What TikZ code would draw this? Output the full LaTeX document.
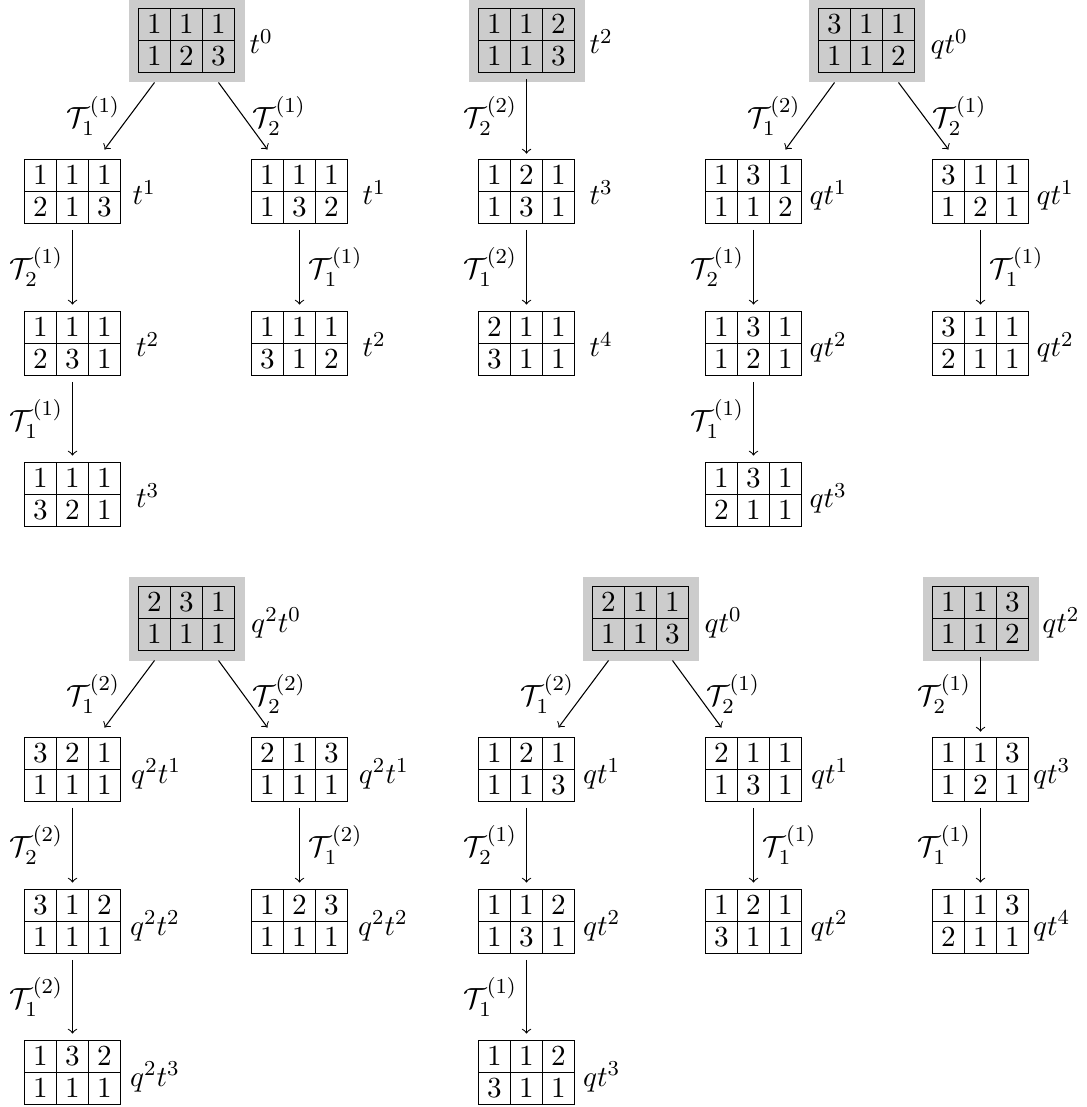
\documentclass[tikz,border=0pt]{standalone}
\usetikzlibrary{calc}
\newcommand{\ycell}[1]{\makebox[12.032pt]{\rule[-2.49pt]{0pt}{12.032pt}#1}}
\newcommand{\ytab}[6]{{\setlength{\tabcolsep}{0pt}\renewcommand{\arraystretch}{0}%
\begin{tabular}{@{}ccc@{}}\ycell{#1}&\ycell{#2}&\ycell{#3}\\\ycell{#4}&\ycell{#5}&\ycell{#6}\end{tabular}}}
\newcommand{\Tm}[2]{\mathcal{T}_{#1}^{(#2)}}
\tikzset{
  every node/.style={font=\fontsize{10.95}{13.6}\selectfont},
  tabl/.style={inner sep=0pt, outer sep=0pt, minimum width=36.096pt, minimum height=24.064pt},
  gridline/.style={line width=0.4pt},
  rootbg/.style={fill=black!20},
  lab/.style={inner sep=0pt, anchor=base west},
  arr/.style={->},
  tl/.style={midway, left},
  tr/.style={midway, right}
}
% a tableau: name, position, six entries
\newcommand{\tabnode}[8]{\node[tabl] (#1) at #2 {\ytab{#3}{#4}{#5}{#6}{#7}{#8}};
  \draw[gridline] (#1.north west) rectangle (#1.south east) (#1.west) -- (#1.east)
    ([xshift=12.032pt]#1.north west) -- ([xshift=12.032pt]#1.south west)
    ([xshift=-12.032pt]#1.north east) -- ([xshift=-12.032pt]#1.south east);}
\newcommand{\rootnode}[8]{\fill[rootbg] ($#2+(-58,-42)$) rectangle ($#2+(58,42)$);
  \tabnode{#1}{#2}{#3}{#4}{#5}{#6}{#7}{#8}}
% diagonal edges from a root
\newcommand{\dleft}[3]{\draw[arr] ([xshift=-12.03pt,yshift=-3.76pt]#1.south) -- node[tl]{$#3$} ([xshift=12.03pt,yshift=3.76pt]#2.north);}
\newcommand{\dright}[3]{\draw[arr] ([xshift=12.03pt,yshift=-3.76pt]#1.south) -- node[tr]{$#3$} ([xshift=-12.03pt,yshift=3.76pt]#2.north);}
% vertical edge from a root
\newcommand{\vroot}[3]{\draw[arr] ([yshift=-2.4pt]#1.south) -- node[tl]{$#3$} ([yshift=2.2pt]#2.north);}
% vertical edges between plain tableaux
\newcommand{\vleft}[3]{\draw[arr] ([yshift=-2.4pt]#1.south) -- node[tl]{$#3$} ([yshift=2.6pt]#2.north);}
\newcommand{\vright}[3]{\draw[arr] ([yshift=-2.4pt]#1.south) -- node[tr]{$#3$} ([yshift=2.6pt]#2.north);}
\begin{document}
\begin{tikzpicture}[x=0.376pt, y=-0.376pt]
\useasboundingbox (0,0) rectangle (1086,1107);
% ---------------- top-left tree
\rootnode{A0}{(186.5,40.5)}{1}{1}{1}{1}{2}{3}
\tabnode{A1}{(72.5,191.5)}{1}{1}{1}{2}{1}{3}
\tabnode{A2}{(299.5,191.5)}{1}{1}{1}{1}{3}{2}
\tabnode{A11}{(72.5,343.5)}{1}{1}{1}{2}{3}{1}
\tabnode{A21}{(299.5,343.5)}{1}{1}{1}{3}{1}{2}
\tabnode{A111}{(72.5,494.5)}{1}{1}{1}{3}{2}{1}
\node[lab] (A0t) at (249,54) {$t^0$};
\node[lab] (A1t) at (132,205) {$t^1$};
\node[lab] (A2t) at (362,205) {$t^1$};
\node[lab] (A11t) at (135.5,357) {$t^2$};
\node[lab] (A21t) at (362,357) {$t^2$};
\node[lab] (A111t) at (135.5,508) {$t^3$};
\dleft{A0}{A1}{\Tm{1}{1}}
\dright{A0}{A2}{\Tm{2}{1}}
\vleft{A1}{A11}{\Tm{2}{1}}
\vright{A2}{A21}{\Tm{1}{1}}
\vleft{A11}{A111}{\Tm{1}{1}}
% ---------------- top-middle tree
\rootnode{B0}{(526.5,40.5)}{1}{1}{2}{1}{1}{3}
\tabnode{B1}{(526.5,191.5)}{1}{2}{1}{1}{3}{1}
\tabnode{B11}{(526.5,343.5)}{2}{1}{1}{3}{1}{1}
\node[lab] (B0t) at (589,54) {$t^2$};
\node[lab] (B1t) at (589,205) {$t^3$};
\node[lab] (B11t) at (589,357) {$t^4$};
\vroot{B0}{B1}{\Tm{2}{2}}
\vleft{B1}{B11}{\Tm{1}{2}}
% ---------------- top-right tree
\rootnode{C0}{(866.5,40.5)}{3}{1}{1}{1}{1}{2}
\tabnode{C1}{(753.5,191.5)}{1}{3}{1}{1}{1}{2}
\tabnode{C2}{(980.5,191.5)}{3}{1}{1}{1}{2}{1}
\tabnode{C11}{(753.5,343.5)}{1}{3}{1}{1}{2}{1}
\tabnode{C21}{(980.5,343.5)}{3}{1}{1}{2}{1}{1}
\tabnode{C111}{(753.5,494.5)}{1}{3}{1}{2}{1}{1}
\node[lab] (C0t) at (930,54) {$qt^0$};
\node[lab] (C1t) at (809,205) {$qt^1$};
\node[lab] (C2t) at (1036,205) {$qt^1$};
\node[lab] (C11t) at (809,357) {$qt^2$};
\node[lab] (C21t) at (1036,357) {$qt^2$};
\node[lab] (C111t) at (809,508) {$qt^3$};
\dleft{C0}{C1}{\Tm{1}{2}}
\dright{C0}{C2}{\Tm{2}{1}}
\vleft{C1}{C11}{\Tm{2}{1}}
\vright{C2}{C21}{\Tm{1}{1}}
\vleft{C11}{C111}{\Tm{1}{1}}
% ---------------- bottom-left tree
\rootnode{D0}{(186.5,618.5)}{2}{3}{1}{1}{1}{1}
\tabnode{D1}{(72.5,769.5)}{3}{2}{1}{1}{1}{1}
\tabnode{D2}{(299.5,769.5)}{2}{1}{3}{1}{1}{1}
\tabnode{D11}{(72.5,921.5)}{3}{1}{2}{1}{1}{1}
\tabnode{D21}{(299.5,921.5)}{1}{2}{3}{1}{1}{1}
\tabnode{D111}{(72.5,1072.5)}{1}{3}{2}{1}{1}{1}
\node[lab] (D0t) at (250.7,632) {$q^2t^0$};
\node[lab] (D1t) at (130.7,783) {$q^2t^1$};
\node[lab] (D2t) at (358.3,783) {$q^2t^1$};
\node[lab] (D11t) at (129.5,935) {$q^2t^2$};
\node[lab] (D21t) at (357.5,935) {$q^2t^2$};
\node[lab] (D111t) at (129.5,1086) {$q^2t^3$};
\dleft{D0}{D1}{\Tm{1}{2}}
\dright{D0}{D2}{\Tm{2}{2}}
\vleft{D1}{D11}{\Tm{2}{2}}
\vright{D2}{D21}{\Tm{1}{2}}
\vleft{D11}{D111}{\Tm{1}{2}}
% ---------------- bottom-middle tree
\rootnode{E0}{(640.5,618.5)}{2}{1}{1}{1}{1}{3}
\tabnode{E1}{(526.5,769.5)}{1}{2}{1}{1}{1}{3}
\tabnode{E2}{(753.5,769.5)}{2}{1}{1}{1}{3}{1}
\tabnode{E11}{(526.5,921.5)}{1}{1}{2}{1}{3}{1}
\tabnode{E21}{(753.5,921.5)}{1}{2}{1}{3}{1}{1}
\tabnode{E111}{(526.5,1072.5)}{1}{1}{2}{3}{1}{1}
\node[lab] (E0t) at (704,632) {$qt^0$};
\node[lab] (E1t) at (582.5,783) {$qt^1$};
\node[lab] (E2t) at (810.5,783) {$qt^1$};
\node[lab] (E11t) at (582.5,935) {$qt^2$};
\node[lab] (E21t) at (810,935) {$qt^2$};
\node[lab] (E111t) at (582.5,1086) {$qt^3$};
\dleft{E0}{E1}{\Tm{1}{2}}
\dright{E0}{E2}{\Tm{2}{1}}
\vleft{E1}{E11}{\Tm{2}{1}}
\vright{E2}{E21}{\Tm{1}{1}}
\vleft{E11}{E111}{\Tm{1}{1}}
% ---------------- bottom-right tree
\rootnode{F0}{(980.5,618.5)}{1}{1}{3}{1}{1}{2}
\tabnode{F1}{(980.5,769.5)}{1}{1}{3}{1}{2}{1}
\tabnode{F11}{(980.5,921.5)}{1}{1}{3}{2}{1}{1}
\node[lab] (F0t) at (1041.7,632) {$qt^2$};
\node[lab] (F1t) at (1032.5,783) {$qt^3$};
\node[lab] (F11t) at (1032.5,935) {$qt^4$};
\vroot{F0}{F1}{\Tm{2}{1}}
\vleft{F1}{F11}{\Tm{1}{1}}
\end{tikzpicture}
\end{document}
